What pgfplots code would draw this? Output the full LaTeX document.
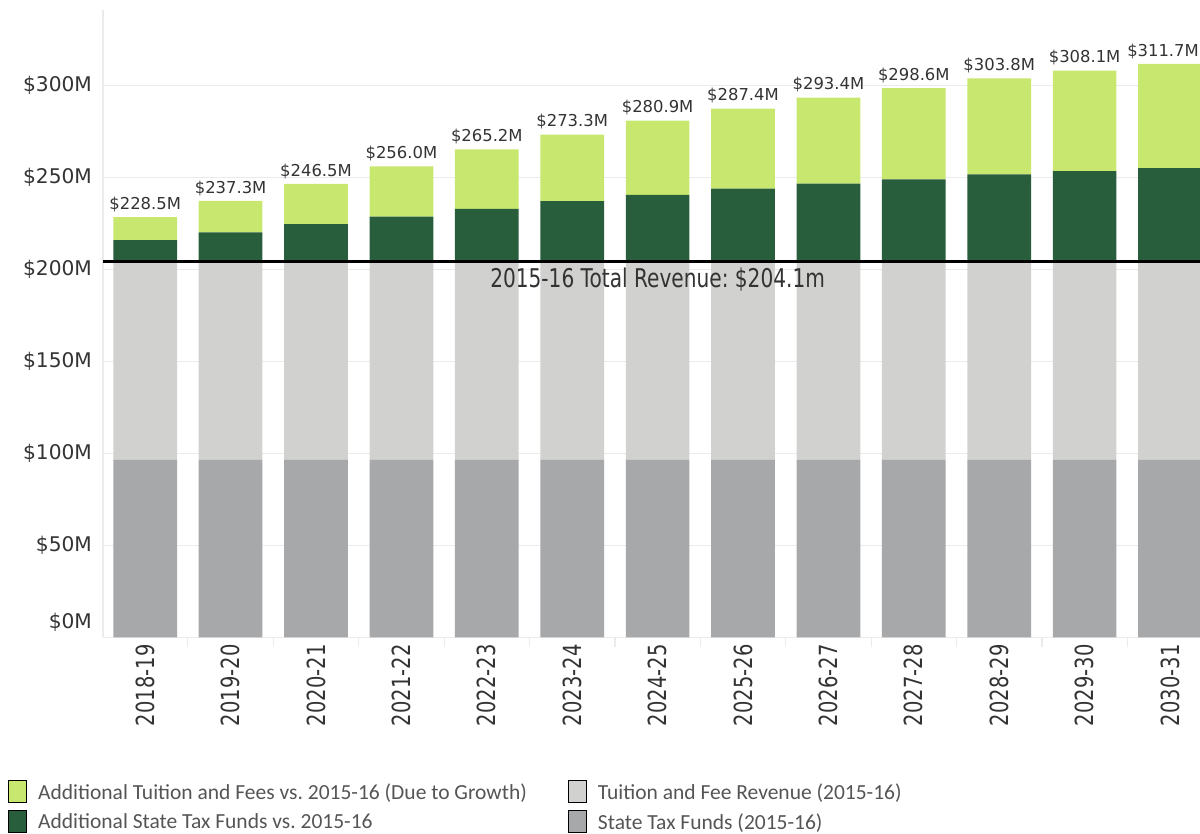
\documentclass[border=0pt]{standalone}
\usepackage{fontspec}
\setmainfont{DejaVu Sans}
\newfontfamily\condfont{DejaVu Sans}[FakeStretch=0.78]
\newfontfamily\legfont{Carlito}
\usepackage{pgfplots}
\usepackage{pgfplotstable}
\pgfplotsset{compat=1.18}
\frenchspacing

\definecolor{addtuit}{HTML}{C7E76E}
\definecolor{addstate}{HTML}{285E3B}
\definecolor{tuit}{HTML}{D1D1D0}
\definecolor{statec}{HTML}{A7A8AA}
\definecolor{txt}{HTML}{333333}
\definecolor{legc}{HTML}{555555}
\definecolor{gridc}{HTML}{EBEBEB}

% values in $M; total = label above each bar
\pgfplotstableread{
x  state tuit  addstate addtuit total
0  96.5  107.6 11.9     12.5    228.5
1  96.5  107.6 16.1     17.1    237.3
2  96.5  107.6 20.5     21.9    246.5
3  96.5  107.6 24.6     27.3    256.0
4  96.5  107.6 28.8     32.3    265.2
5  96.5  107.6 33.1     36.1    273.3
6  96.5  107.6 36.4     40.4    280.9
7  96.5  107.6 39.8     43.5    287.4
8  96.5  107.6 42.6     46.7    293.4
9  96.5  107.6 44.9     49.6    298.6
10 96.5  107.6 47.6     52.1    303.8
11 96.5  107.6 49.3     54.7    308.1
12 96.5  107.6 50.9     56.7    311.7
}\data

\pgfplotsset{
  frame/.style={
    at={(0,0)}, anchor=south west,
    scale only axis,
    width=548.5pt, height=313.75pt,
    xmin=-0.494, xmax=12.351,
    ymin=0, ymax=341,
  },
  totals/.style={draw=none, mark=none,
    point meta=explicit symbolic,
    nodes near coords={\$\pgfplotspointmeta M},
    nodes near coords style={font=\fontsize{8.2}{10}\selectfont, text=txt,
        anchor=base, yshift=3.9pt, inner sep=0pt}},
}

\begin{document}
\begin{tikzpicture}
\useasboundingbox (-51.5pt,-98.25pt) rectangle (548.5pt,318.75pt);
\begin{axis}[
    frame,
    ybar stacked,
    bar width=0.746,
    xtick={0,...,12},
    xticklabels={2018-19,2019-20,2020-21,2021-22,2022-23,2023-24,2024-25,2025-26,2026-27,2027-28,2028-29,2029-30,2030-31},
    xticklabel style={rotate=90, anchor=east, font=\condfont\fontsize{12.5}{14}\selectfont},
    ytick={50,100,...,300},
    yticklabels={\$50M,\$100M,\$150M,\$200M,\$250M,\$300M},
    extra y ticks={0},
    extra y tick labels={\$0M},
    extra y tick style={yticklabel style={yshift=7.75pt}},
    yticklabel style={xshift=-2pt, font=\fontsize{10.1}{12}\selectfont},
    tick label style={text=txt},
    ymajorgrids,
    grid style={draw=gridc, line width=0.6pt},
    major tick length=0pt,
    minor xtick={-0.5,0.5,...,12.5},
    minor tick length=5pt,
    minor tick style={draw=gridc, line width=0.6pt},
    tick align=outside,
    axis x line*=bottom, axis y line*=left,
    axis line style={draw=gridc, line width=0.6pt, -},
    legend columns=2,
    legend cell align=left,
    legend image code/.code={\fill[#1] (0pt,-4.75pt) rectangle (9pt,6.25pt);},
    legend style={at={(0,0)}, anchor=north west, xshift=-47.5pt, yshift=-71pt,
        draw=none, fill=none, inner sep=0pt, column sep=3.5pt, row sep=1.5pt,
        font=\legfont\fontsize{10.75}{12}\selectfont, text=legc},
]
\addplot[fill=statec, draw=none, forget plot] table[x=x, y=state] {\data};
\addplot[fill=tuit, draw=none, forget plot] table[x=x, y=tuit] {\data};
\addplot[fill=addstate, draw=none, forget plot] table[x=x, y=addstate] {\data};
\addplot[fill=addtuit, draw=none, forget plot] table[x=x, y=addtuit] {\data};

\addlegendimage{fill=addtuit}
\addlegendentry{\makebox[259.5pt][l]{Additional Tuition and Fees vs. 2015-16 (Due to Growth)}}
\addlegendimage{fill=tuit}
\addlegendentry{Tuition and Fee Revenue (2015-16)}
\addlegendimage{fill=addstate}
\addlegendentry{\makebox[259.5pt][l]{Additional State Tax Funds vs. 2015-16}}
\addlegendimage{fill=statec}
\addlegendentry{State Tax Funds (2015-16)}
\end{axis}

% overlay: totals above the bars and the 2015-16 reference line
\begin{axis}[frame, hide axis, clip=false]
\addplot[totals, skip coords between index={12}{13}]
    table[x=x, y=total, meta=total] {\data};
\addplot[totals, skip coords between index={0}{12},
    nodes near coords style={xshift=-3.5pt}]
    table[x=x, y=total, meta=total] {\data};
\addplot[black, line width=1.5pt, mark=none] coordinates {(-0.494,204.1) (12.351,204.1)};
\node[anchor=north, inner sep=0pt, text=txt, font=\condfont\fontsize{12.9}{15}\selectfont]
    at (axis cs:6,201) {2015-16 Total Revenue: \$204.1m};
\end{axis}
\end{tikzpicture}
\end{document}
